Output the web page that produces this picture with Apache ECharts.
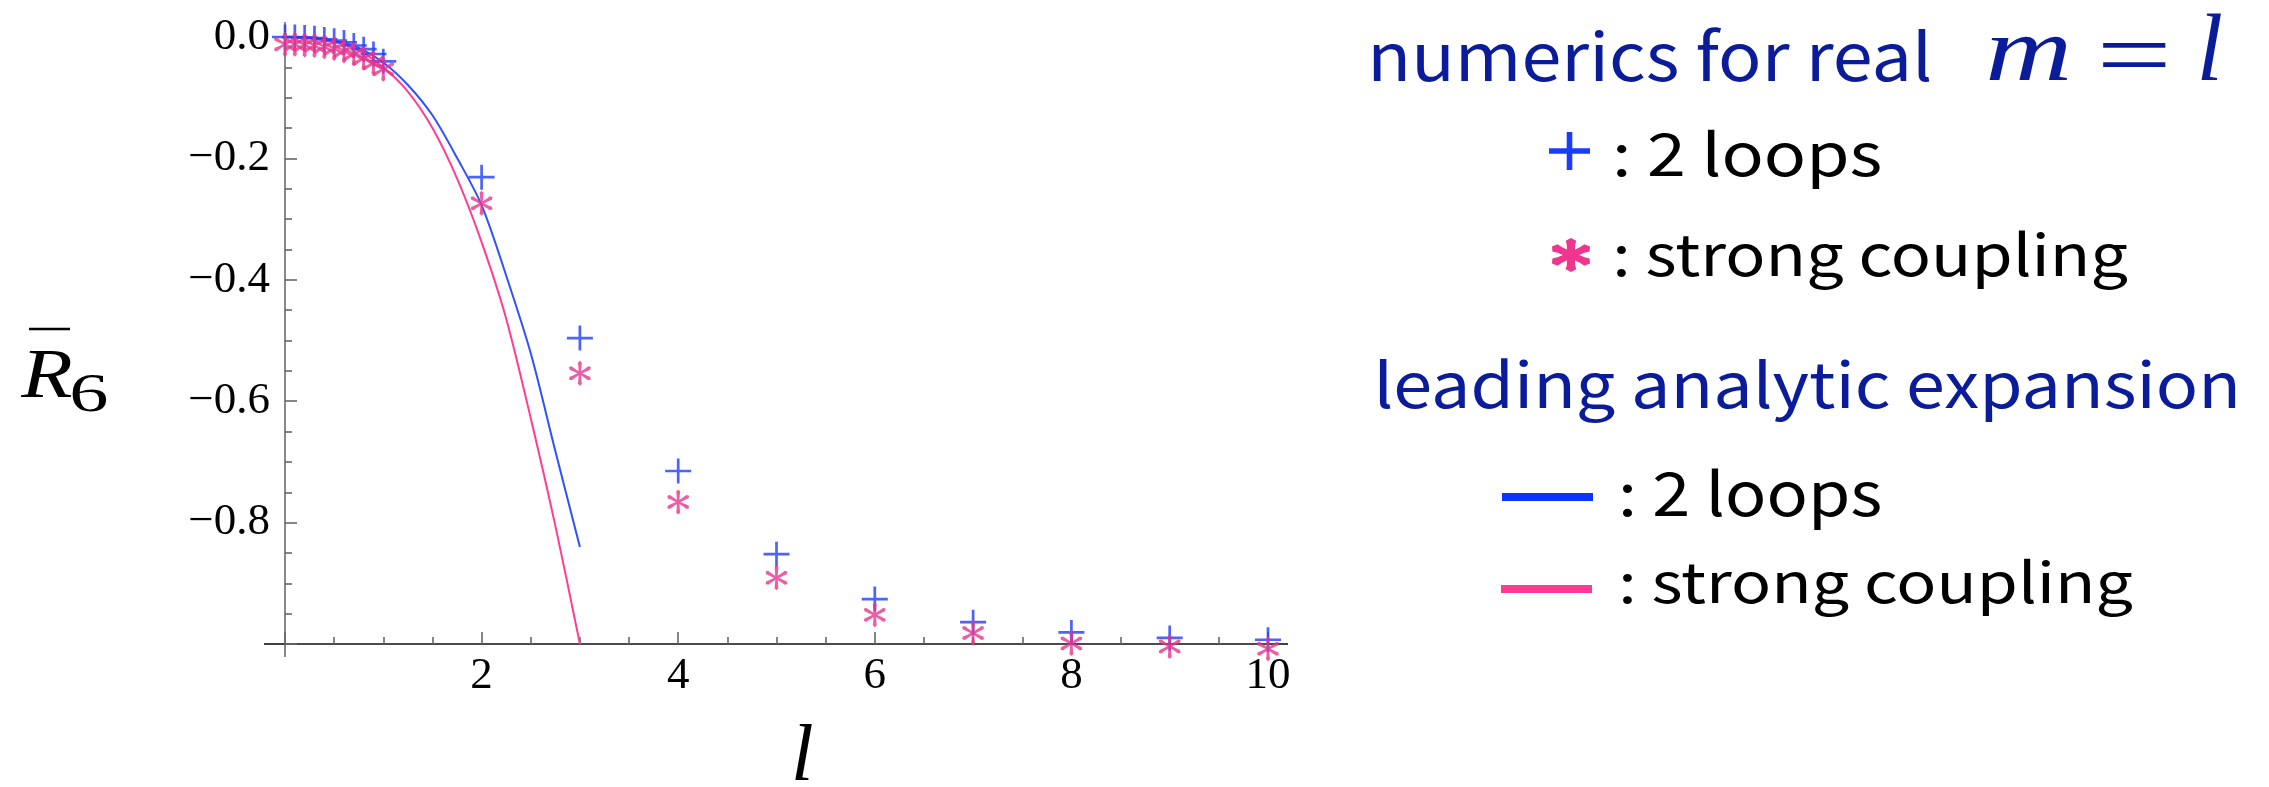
<!DOCTYPE html>
<html><head><meta charset="utf-8">
<script src="https://cdn.jsdelivr.net/npm/echarts@6/dist/echarts.min.js"></script>
<style>html,body{margin:0;padding:0;background:#fff;}#c{width:2269px;height:787px;}</style>
</head><body><div id="c"></div>
<script>
// ---- data ----
const lPoints = [0, 0.1, 0.2, 0.3, 0.4, 0.5, 0.6, 0.7, 0.8, 0.9, 1, 2, 3, 4, 5, 6, 7, 8, 9, 10];
const twoLoopNumerics = [0, -0.0002, -0.001, -0.002, -0.004, -0.006, -0.009, -0.014, -0.020, -0.028, -0.040,
  -0.231, -0.496, -0.715, -0.852, -0.926, -0.964, -0.981, -0.990, -0.993];
const strongNumerics = [-0.012, -0.012, -0.013, -0.014, -0.016, -0.019, -0.023, -0.028, -0.035, -0.043, -0.053,
  -0.274, -0.554, -0.766, -0.891, -0.952, -0.982, -0.999, -1.004, -1.008];
const lCurve = [0, 0.25, 0.5, 0.75, 1, 1.25, 1.5, 1.75, 2, 2.25, 2.5, 2.75, 3];
const twoLoopAnalytic = [0, -0.001, -0.006, -0.018, -0.042, -0.079, -0.129, -0.199, -0.277, -0.393, -0.521, -0.682, -0.840];
const strongAnalytic = [0, -0.001, -0.007, -0.022, -0.050, -0.090, -0.150, -0.233, -0.338, -0.464, -0.628, -0.805, -1.000];
const xTickLabels = ['2', '4', '6', '8', '10'];
const yTickLabels = ['0.0', '\u22120.2', '\u22120.4', '\u22120.6', '\u22120.8'];
const legendTitles = ['numerics for real', 'leading analytic expansion'];
const legendItems = [': 2 loops', ': strong coupling'];

// ---- styles ----
const BLUE_PT = '#1e3cff', PINK_PT = '#e8348c';
const BLUE_LN = '#3050ff', PINK_LN = '#ff3d92';
const NAVY = '#0a1c9a';
const SERIF = 'Liberation Serif';
const SANS = 'Noto Sans CJK JP';

function plusPath(w, h, t) {
  const cy = h / 2, cx = w / 2;
  return 'M0,' + (cy - t / 2) + 'H' + w + 'V' + (cy + t / 2) + 'H0Z' +
         'M' + (cx - t / 2) + ',0H' + (cx + t / 2) + 'V' + h + 'H' + (cx - t / 2) + 'Z';
}
function starPolys(wc, wt) {
  return [90, 30, -30].map(deg => {
    const a = deg * Math.PI / 180, dx = Math.cos(a), dy = Math.sin(a), nx = -dy, ny = dx;
    const pts = [[-50,0],[-42,wt],[-30,wt*0.8],[-10,wc],[10,wc],[30,wt*0.8],[42,wt],[50,0],[42,-wt],[30,-wt*0.8],[10,-wc],[-10,-wc],[-30,-wt*0.8],[-42,-wt]];
    return pts.map(p => [50 + p[0]*dx + p[1]*nx, 50 + p[0]*dy + p[1]*ny]);
  });
}
function starPath(wc, wt) {
  return starPolys(wc, wt).map(poly => poly.map((p, i) => (i ? 'L' : 'M') + p[0].toFixed(2) + ',' + p[1].toFixed(2)).join('') + 'Z').join('');
}

const chart = echarts.init(document.getElementById('c'));
const option = {
  animation: false,
  backgroundColor: '#fff',
  grid: { left: 285, top: 37, width: 983, height: 607, outerBoundsMode: 'none', containLabel: false },
  xAxis: {
    type: 'value', min: 0, max: 10, interval: 2,
    axisLine: { show: true, onZero: false, lineStyle: { color: '#111', width: 1.6 } },
    axisTick: { show: true, inside: true, length: 12, lineStyle: { color: '#666', width: 1.6 } },
    minorTick: { show: true, splitNumber: 4, length: 7, lineStyle: { color: '#666', width: 1.6 } },
    splitLine: { show: false },
    axisLabel: { margin: 10, fontFamily: SERIF, fontSize: 45, color: '#000',
      formatter: v => { const i = Math.round(v / 2) - 1; return i >= 0 ? xTickLabels[i] : ''; } }
  },
  yAxis: {
    type: 'value', min: -1, max: 0, interval: 0.2,
    axisLine: { show: true, onZero: false, lineStyle: { color: '#888', width: 2 } },
    axisTick: { show: true, inside: true, length: 12, lineStyle: { color: '#666', width: 1.6 } },
    minorTick: { show: true, splitNumber: 4, length: 7, lineStyle: { color: '#666', width: 1.6 } },
    splitLine: { show: false },
    axisLabel: { margin: 15, fontFamily: SERIF, fontSize: 45, color: '#000',
      formatter: v => { const i = Math.round(-v / 0.2); return i < yTickLabels.length ? yTickLabels[i] : ''; } }
  },
  series: [
    { type: 'line', data: lCurve.map((l, i) => [l, twoLoopAnalytic[i]]), smooth: 0.3,
      showSymbol: false, lineStyle: { color: BLUE_LN, width: 2 }, clip: false, z: 2 },
    { type: 'line', data: lCurve.map((l, i) => [l, strongAnalytic[i]]), smooth: 0.3,
      showSymbol: false, lineStyle: { color: PINK_LN, width: 2 }, clip: false, z: 2 },
    { type: 'scatter', data: lPoints.map((l, i) => [l, twoLoopNumerics[i]]),
      symbol: 'path://' + plusPath(26, 25, 2.7), symbolSize: [26, 25],
      itemStyle: { color: BLUE_PT }, clip: false, z: 3 },
    { type: 'scatter', data: lPoints.map((l, i) => [l, strongNumerics[i]]),
      symbol: 'path://' + starPath(5, 8), symbolSize: [22, 25],
      itemStyle: { color: PINK_PT }, clip: false, z: 4 }
  ]
};
chart.setOption(option);

// ---- text placement fitted to ink boxes ----
const mctx = document.createElement('canvas').getContext('2d');
function fitText(str, family, size, italic, L, R, T, B, fill, uniform) {
  const font = (italic ? 'italic ' : '') + size + 'px "' + family + '"';
  mctx.font = font; mctx.textBaseline = 'middle'; mctx.textAlign = 'left';
  const m = mctx.measureText(str);
  const inkW = m.actualBoundingBoxLeft + m.actualBoundingBoxRight;
  const inkH = m.actualBoundingBoxAscent + m.actualBoundingBoxDescent;
  const sy = (B - T) / inkH;
  let sx = (R - L) / inkW, left = L;
  if (uniform) { sx = sy; left = (L + R) / 2 - inkW * sx / 2; }
  return { type: 'text', x: left + m.actualBoundingBoxLeft * sx, y: T + m.actualBoundingBoxAscent * sy,
    scaleX: sx, scaleY: sy, z: 10,
    style: { text: str, fontFamily: family, fontSize: size, fontStyle: italic ? 'italic' : 'normal', fontWeight: 'normal',
      fill: fill, textAlign: 'left', textVerticalAlign: 'middle', align: 'left', verticalAlign: 'middle' } };
}
function starGraphic(x, y, w, h, wc, wt, fill) {
  return starPolys(wc, wt).map(poly => ({ type: 'polygon', z: 10,
    shape: { points: poly.map(p => [x + (p[0] - 6.7) / 86.6 * w, y + p[1] / 100 * h]) }, style: { fill: fill } }));
}

const p00 = chart.convertToPixel({ gridIndex: 0 }, [0, 0]);
const p0m1 = chart.convertToPixel({ gridIndex: 0 }, [0, -1]);
const p10m1 = chart.convertToPixel({ gridIndex: 0 }, [10, -1]);

const g = [
  // axis line extensions beyond the tick range
  { type: 'line', shape: { x1: p0m1[0] - 21, y1: p0m1[1], x2: p0m1[0], y2: p0m1[1] }, style: { stroke: '#111', lineWidth: 1.6 } },
  { type: 'line', shape: { x1: p10m1[0], y1: p10m1[1], x2: p10m1[0] + 20, y2: p10m1[1] }, style: { stroke: '#111', lineWidth: 1.6 } },
  { type: 'line', shape: { x1: p00[0], y1: p00[1] - 15, x2: p00[0], y2: p00[1] }, style: { stroke: '#888', lineWidth: 2 } },
  { type: 'line', shape: { x1: p0m1[0], y1: p0m1[1], x2: p0m1[0], y2: p0m1[1] + 13 }, style: { stroke: '#888', lineWidth: 2 } },
  // axis titles
  fitText('R', SERIF, 68, true, 20, 72, 352, 397, '#000'),
  { type: 'line', shape: { x1: 29, y1: 329, x2: 70, y2: 329 }, style: { stroke: '#000', lineWidth: 2.5 } },
  fitText('6', SERIF, 56, false, 72, 107, 374, 412, '#000'),
  fitText('l', SERIF, 84, true, 791, 816, 723, 780, '#000', true),
  // legend
  fitText(legendTitles[0], SANS, 76, false, 1373, 1930, 28.3, 81.7, NAVY),
  fitText('m', SERIF, 96, true, 1989, 2068, 36.7, 80, NAVY),
  fitText('=', SERIF, 96, false, 2102, 2166, 42.7, 66.7, NAVY),
  fitText('l', SERIF, 96, true, 2200, 2223, 13.3, 80, NAVY, true),
  { type: 'rect', z: 10, shape: { x: 1549, y: 148.2, width: 41, height: 5.6 }, style: { fill: '#1a3cff' } },
  { type: 'rect', z: 10, shape: { x: 1566.7, y: 132, width: 5.6, height: 38 }, style: { fill: '#1a3cff' } },
  fitText(legendItems[0], SANS, 69, false, 1617, 1880, 130, 190, '#000'),
  ...starGraphic(1552, 238, 38, 34, 9, 12, '#f0358f'),
  fitText(legendItems[1], SANS, 69, false, 1617, 2127, 230, 290, '#000'),
  fitText(legendTitles[1], SANS, 76, false, 1379, 2235, 358.3, 423.3, NAVY),
  { type: 'line', shape: { x1: 1502, y1: 497, x2: 1593, y2: 497 }, style: { stroke: '#0a34ff', lineWidth: 8 } },
  fitText(legendItems[0], SANS, 69, false, 1623, 1880, 468.3, 530, '#000'),
  { type: 'line', shape: { x1: 1501, y1: 589, x2: 1592, y2: 589 }, style: { stroke: '#ff3a93', lineWidth: 8 } },
  fitText(legendItems[1], SANS, 69, false, 1623, 2132, 558.3, 616.7, '#000')
];
chart.setOption({ graphic: g });
</script>
</body></html>
